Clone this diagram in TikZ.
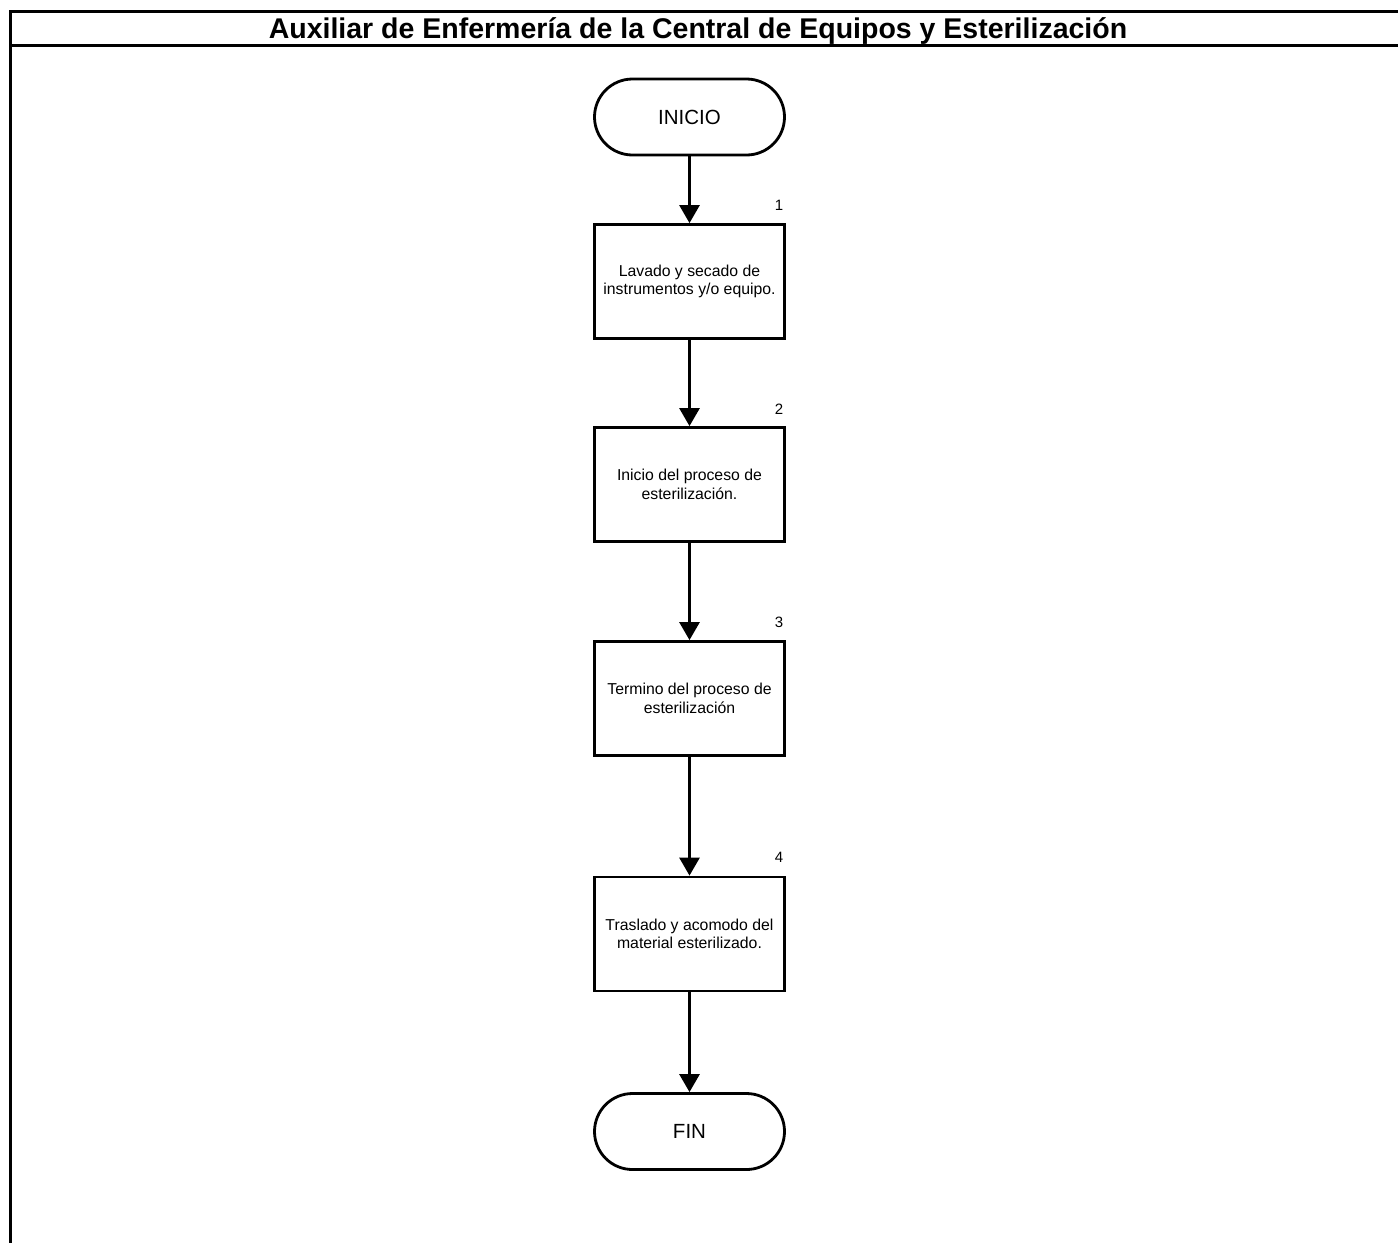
\documentclass[tikz,border=0pt]{standalone}
\usepackage{fontspec}
\setmainfont{Liberation Sans}
\usetikzlibrary{arrows.meta}
\begin{document}
\begin{tikzpicture}[x=1pt,y=-1pt,
  frameline/.style={line width=3pt},
  term/.style={draw,line width=2.8pt,minimum width=190pt,minimum height=76pt,rounded corners=38pt,font=\fontsize{20.5}{24}\selectfont,inner sep=0pt},
  stepbox/.style={draw,line width=2.8pt,minimum width=190pt,minimum height=114pt,align=center,font=\fontsize{15.8}{18.5}\selectfont,inner sep=0pt},
  flow/.style={line width=2.8pt,-{Triangle[length=18pt,width=20pt]}},
  num/.style={font=\fontsize{15}{18}\selectfont,inner sep=0pt}]
\useasboundingbox (0,0) rectangle (1398,1243);
\fill[white] (0,0) rectangle (1398,1243);
% frame
\coordinate (tl) at (10,11);
\coordinate (tr) at (1398,11);
\coordinate (hl) at (10,45);
\coordinate (hr) at (1398,45);
\coordinate (bl) at (10,1243);
\draw[frameline] (tr) -- (tl) -- (bl);
\draw[frameline] (hl) -- (hr);
\node[font=\bfseries\fontsize{28.5}{32}\selectfont,inner sep=0pt,anchor=base] (title) at (698,38) {Auxiliar de Enfermería de la Central de Equipos y Esterilización};
% nodes
\node[term] (inicio) at (689.5,117) {INICIO};
\node[stepbox] (s1) at (689.5,281.5) {Lavado y secado de\\instrumentos y/o equipo.};
\node[stepbox] (s2) at (689.5,484.5) {Inicio del proceso de\\esterilización.};
\node[stepbox] (s3) at (689.5,698.5) {Termino del proceso de\\esterilización};
\node[stepbox] (s4) at (689.5,934) {Traslado y acomodo del\\material esterilizado.};
\node[term] (fin) at (689.5,1131.5) {FIN};
\node[num] (n1) at (779,205) {1};
\node[num] (n2) at (779,409) {2};
\node[num] (n3) at (779,622) {3};
\node[num] (n4) at (779,857) {4};
% connectors
\draw[flow] (inicio) -- (s1);
\draw[flow] (s1) -- (s2);
\draw[flow] (s2) -- (s3);
\draw[flow] (s3) -- (s4);
\draw[flow] (s4) -- (fin);
\end{tikzpicture}
\end{document}
